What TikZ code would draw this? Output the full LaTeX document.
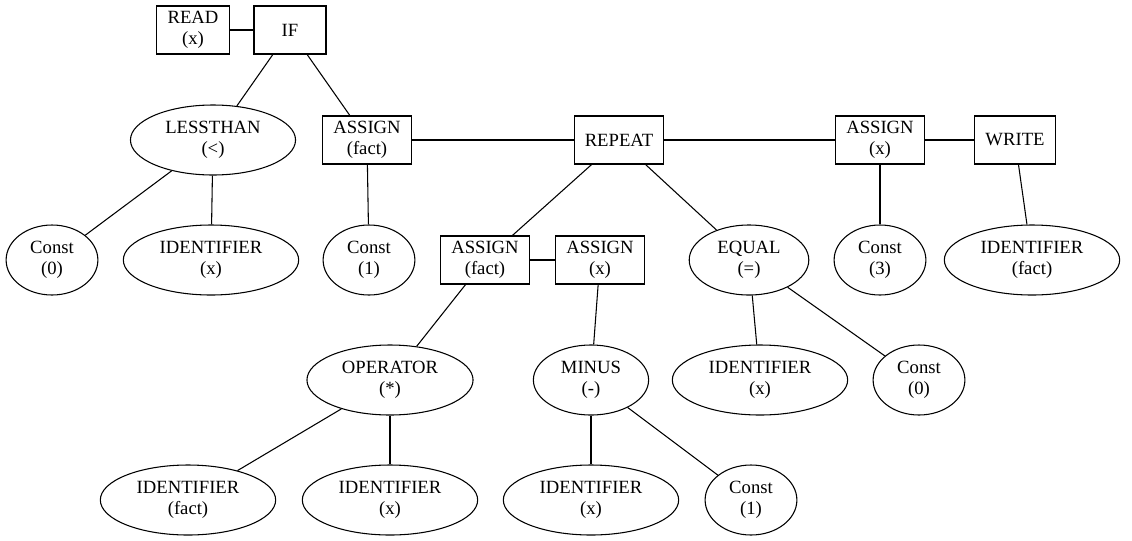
\documentclass[tikz,border=0pt]{standalone}
\usepackage{fontspec}
\setmainfont{Liberation Serif}
\usetikzlibrary{shapes}

\begin{document}
\begin{tikzpicture}[x=0.75pt,y=-0.75pt,thick,
                    every node/.style={font=\rmfamily\fontsize{14}{15.5}\selectfont,align=center},
                    stmt/.style={draw,rectangle,inner xsep=8pt,inner ysep=2pt,
                                 minimum width=54pt,minimum height=36pt},
                    expr/.style={draw,ellipse,inner xsep=8pt,inner ysep=1pt,
                                 minimum height=52.5pt}]

        \useasboundingbox (0,0) rectangle (1132,540);

        % statements
        \node[stmt] (rd)  at (193,30)  {READ\\(x)};
        \node[stmt] (if)  at (290,30)  {IF};
        \node[stmt] (as1) at (367,140) {ASSIGN\\(fact)};
        \node[stmt] (rp)  at (619,140) {REPEAT};
        \node[stmt] (as3) at (880,140) {ASSIGN\\(x)};
        \node[stmt] (wr)  at (1015,140) {WRITE};
        \node[stmt] (as2) at (485,260) {ASSIGN\\(fact)};
        \node[stmt] (as4) at (600,260) {ASSIGN\\(x)};

        % expressions
        \node[expr] (lt)   at (213,140) {LESSTHAN\\(<)};
        \node[expr] (c0)   at (52,260)  {Const\\(0)};
        \node[expr] (idx1) at (211,260) {IDENTIFIER\\(x)};
        \node[expr] (c1)   at (369,260) {Const\\(1)};
        \node[expr] (eq)   at (749,260) {EQUAL\\(=)};
        \node[expr] (c3)   at (880,260) {Const\\(3)};
        \node[expr] (idf1) at (1032,260) {IDENTIFIER\\(fact)};
        \node[expr] (op)   at (390,380) {OPERATOR\\(*)};
        \node[expr] (mi)   at (591,380) {MINUS\\(-)};
        \node[expr] (idx2) at (760,380) {IDENTIFIER\\(x)};
        \node[expr] (c0b)  at (919,380) {Const\\(0)};
        \node[expr] (idf2) at (188,500) {IDENTIFIER\\(fact)};
        \node[expr] (idx3) at (390,500) {IDENTIFIER\\(x)};
        \node[expr] (idx4) at (591,500) {IDENTIFIER\\(x)};
        \node[expr] (c1b)  at (751,500) {Const\\(1)};

        \path (rd)  edge (if)
              (if)  edge (lt)
                    edge (as1)
              (lt)  edge (c0)
                    edge (idx1)
              (as1) edge (c1)
                    edge (rp)
              (rp)  edge (as2)
                    edge (eq)
                    edge (as3)
              (as3) edge (c3)
                    edge (wr)
              (wr)  edge (idf1)
              (as2) edge (as4)
                    edge (op)
              (as4) edge (mi)
              (eq)  edge (idx2)
                    edge (c0b)
              (op)  edge (idf2)
                    edge (idx3)
              (mi)  edge (idx4)
                    edge (c1b);

\end{tikzpicture}
\end{document}
